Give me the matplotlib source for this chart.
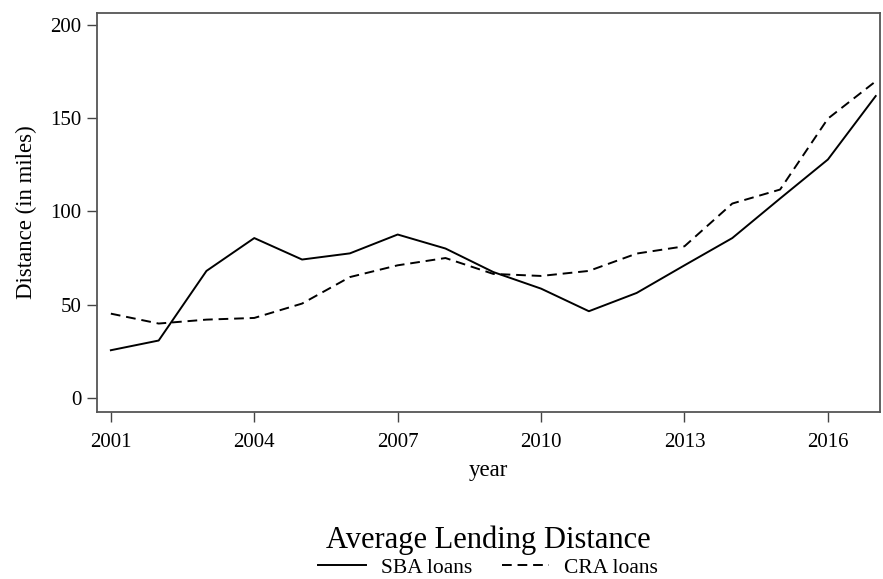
import matplotlib
matplotlib.use("Agg")
import matplotlib.pyplot as plt

years = list(range(2001, 2018))
sba_loans = [25.6, 30.8, 68.1, 85.7, 74.2, 77.5, 87.6, 80.1, 67.5, 58.6,
             46.5, 56.3, 71.1, 85.7, 106.9, 127.8, 161.8]
cra_loans = [45.2, 39.9, 42.0, 42.9, 50.6, 64.8, 71.1, 75.0, 66.5, 65.4,
             68.1, 77.4, 81.3, 104.2, 111.7, 149.7, 169.7]
x_ticks = [2001, 2004, 2007, 2010, 2013, 2016]
y_ticks = [0, 50, 100, 150, 200]

plt.rcParams['font.family'] = ['Liberation Serif', 'DejaVu Serif']

fig = plt.figure(figsize=(8.83, 5.79), dpi=100)
# axes box in pixels: x 97..880, y 13..412
ax = fig.add_axes([97 / 883, 1 - 412 / 579, 783 / 883, 399 / 579])

ax.plot(years, sba_loans, color='black', lw=1.4, ls='-', label='SBA loans')
ax.plot(years, cra_loans, color='black', lw=1.4, ls=(0, (5, 3)), label='CRA loans')

ax.set_xlim(2000.71, 2017.09)
ax.set_ylim(-7.5, 206.3)
ax.set_xticks(x_ticks)
ax.set_yticks(y_ticks)
ax.tick_params(labelsize=15, length=7, width=1, color='#444444',
               direction='out', pad=4)
ax.tick_params(axis='x', pad=8)
for s in ax.spines.values():
    s.set_color('#555555')
    s.set_linewidth(1.3)

ax.set_xlabel('year', fontsize=16.5, labelpad=6)
ax.set_ylabel('Distance (in miles)', fontsize=16.5, labelpad=10)

leg = fig.legend(loc='center', bbox_to_anchor=(0.553, 0.047), ncol=2,
                 frameon=False, fontsize=15.5, handlelength=2.2,
                 handletextpad=0.7, columnspacing=1.4, borderpad=0,
                 labelspacing=0.1,
                 title='Average Lending Distance', title_fontsize=22)
for h in leg.get_lines():
    h.set_linewidth(1.4)

fig.savefig('out.png', dpi=100)
